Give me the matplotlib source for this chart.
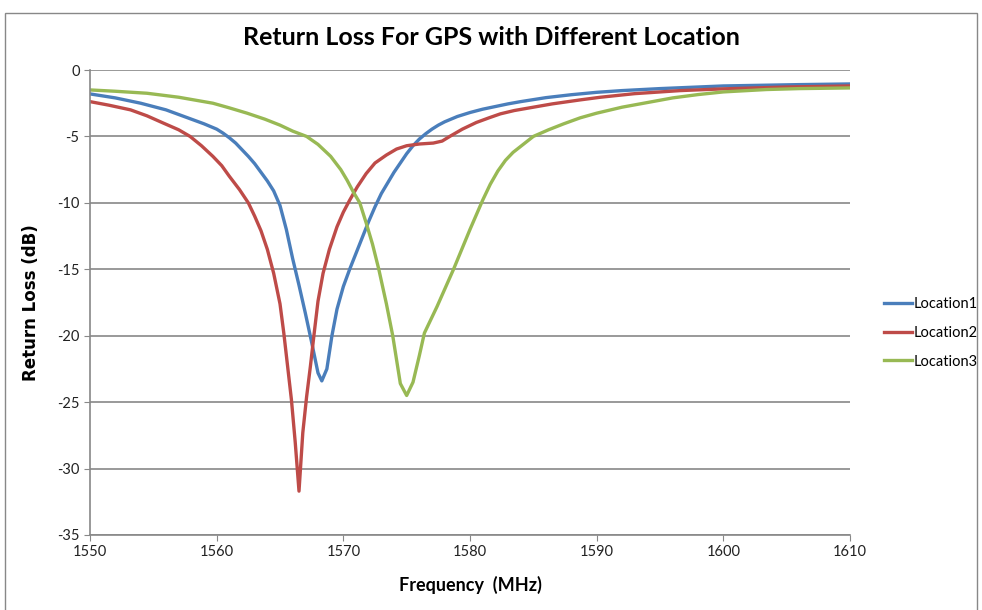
import numpy as np
import matplotlib.pyplot as plt
from matplotlib.patches import Rectangle

# Location1 (blue)
freq1 = [1550, 1551, 1552, 1553, 1554, 1555, 1556, 1557, 1558, 1559, 1560, 1560.5, 1561, 1561.5,
         1562, 1562.5, 1563, 1563.5, 1564, 1564.5, 1565, 1565.5, 1566, 1566.5, 1567, 1567.5,
         1568, 1568.3, 1568.7, 1569.1, 1569.5, 1570, 1570.5, 1571, 1571.5, 1572, 1572.5, 1573,
         1573.5, 1574, 1574.5, 1575, 1575.5, 1576, 1576.5, 1577, 1577.5, 1578, 1579, 1580,
         1581, 1582, 1583, 1584, 1586, 1588, 1590, 1592, 1595, 1598, 1600, 1603, 1606, 1610]
loss1 = [-1.8, -1.95, -2.1, -2.3, -2.5, -2.75, -3.0, -3.35, -3.7, -4.05, -4.45, -4.75, -5.1, -5.5,
         -6.0, -6.5, -7.05, -7.7, -8.35, -9.1, -10.2, -12.0, -14.2, -16.2, -18.3, -20.5,
         -22.8, -23.4, -22.5, -20.0, -18.0, -16.3, -15.0, -13.8, -12.6, -11.4, -10.3, -9.3,
         -8.5, -7.7, -7.0, -6.3, -5.7, -5.2, -4.8, -4.45, -4.15, -3.9, -3.5, -3.2,
         -2.95, -2.75, -2.55, -2.38, -2.08, -1.86, -1.68, -1.55, -1.4, -1.28, -1.2, -1.15, -1.1, -1.05]

# Location2 (red)
freq2 = [1550, 1551.5, 1553.2, 1554.5, 1555.8, 1557, 1557.9, 1558.8, 1559.7, 1560.4, 1561,
         1561.8, 1562.5, 1563, 1563.5, 1564, 1564.5, 1565, 1565.3, 1565.6, 1565.9, 1566.2,
         1566.5, 1566.8, 1567.1, 1567.4, 1567.7, 1568, 1568.4, 1568.9, 1569.5, 1570, 1570.5,
         1571.1, 1571.8, 1572.5, 1573.4, 1574.2, 1575, 1576, 1577.1, 1577.8, 1578.4, 1579.4,
         1580.5, 1581.5, 1582.4, 1583.5, 1584.7, 1586.5, 1588.7, 1590.3, 1593, 1596.6, 1600,
         1605, 1610]
loss2 = [-2.38, -2.65, -3.0, -3.45, -4.0, -4.5, -5.0, -5.7, -6.5, -7.2, -8.0,
         -9.0, -10.0, -11.0, -12.1, -13.5, -15.3, -17.6, -19.8, -22.3, -24.8, -28.0,
         -31.7, -27.3, -24.6, -22.3, -19.8, -17.4, -15.3, -13.5, -11.8, -10.7, -9.8,
         -8.8, -7.8, -7.0, -6.4, -5.95, -5.7, -5.57, -5.5, -5.35, -5.0, -4.45,
         -3.95, -3.6, -3.3, -3.05, -2.85, -2.55, -2.25, -2.05, -1.78, -1.55, -1.42,
         -1.28, -1.2]

# Location3 (green)
freq3 = [1550, 1552, 1554.5, 1557, 1559.7, 1561, 1562.4, 1563.8, 1565, 1566, 1567.1, 1568,
         1569, 1569.8, 1570.3, 1570.8, 1571.3, 1571.8, 1572.3, 1572.8, 1573.4, 1573.9, 1574.5,
         1575, 1575.5, 1576, 1576.4, 1577.4, 1578.7, 1580, 1581, 1581.6, 1582.2, 1582.8,
         1583.4, 1584.2, 1585, 1586.2, 1587.4, 1588.7, 1590, 1592, 1594, 1596, 1598, 1600,
         1603.4, 1606, 1610]
loss3 = [-1.5, -1.6, -1.75, -2.05, -2.5, -2.85, -3.25, -3.7, -4.15, -4.6, -5.0, -5.6,
         -6.5, -7.5, -8.3, -9.2, -10.0, -11.5, -13.1, -15.0, -17.6, -20.0, -23.6,
         -24.5, -23.5, -21.5, -19.8, -17.8, -15.0, -12.0, -9.8, -8.6, -7.6, -6.8,
         -6.2, -5.6, -5.0, -4.5, -4.05, -3.6, -3.25, -2.8, -2.45, -2.1, -1.85, -1.65,
         -1.47, -1.4, -1.35]

plt.rcParams['font.family'] = ['Lato', 'DejaVu Sans']
plt.rcParams['axes.unicode_minus'] = False
narrow = ['Liberation Sans Narrow', 'Lato', 'DejaVu Sans']

fig = plt.figure(figsize=(9.82, 6.1), dpi=100)
ax = fig.add_axes([90 / 982, 75 / 610, 760 / 982, 465 / 610])

ax.plot(freq1, loss1, color="#4A7EBB", linewidth=2.4, label="Location1")
ax.plot(freq2, loss2, color="#BE4B48", linewidth=2.4, label="Location2")
ax.plot(freq3, loss3, color="#98B954", linewidth=2.4, label="Location3")

ax.set_xlim(1550, 1610)
ax.set_ylim(-35, 0)
ax.set_xticks(np.arange(1550, 1611, 10))
ax.set_yticks(np.arange(-35, 1, 5))
ax.yaxis.grid(True, color="#888888", linewidth=1.2)
ax.set_axisbelow(True)
for s in ["top", "right"]:
    ax.spines[s].set_visible(False)
for s in ["left", "bottom"]:
    ax.spines[s].set_color("#888888")
    ax.spines[s].set_linewidth(1.2)
ax.tick_params(axis="both", colors="#888888", labelcolor="#222222", labelsize=10.5, length=4)
for lbl in ax.get_xticklabels() + ax.get_yticklabels():
    lbl.set_family(narrow)

ax.set_xlabel("Frequency  (MHz)", fontsize=13, fontweight="bold", labelpad=12)
ax.set_ylabel("Return Loss (dB)", fontsize=12, fontweight="bold", labelpad=12,
              family="DejaVu Sans")
fig.text(0.5, 0.938, "Return Loss For GPS with Different Location", ha="center", va="center",
         fontsize=18, fontweight="bold")

leg = ax.legend(loc="center left", bbox_to_anchor=(884 / 982, (610 - 333) / 610),
                bbox_transform=fig.transFigure, frameon=False, fontsize=10.5, handlelength=1.9,
                handletextpad=0.15, labelspacing=1.0, borderaxespad=0, borderpad=0,
                prop={'family': narrow, 'size': 10.5})

fig.patches.append(Rectangle((5 / 982, -0.05), 0.99, 1.04 - 7 / 610, transform=fig.transFigure,
                             fill=False, edgecolor="#888888", linewidth=1))

fig.savefig("out.png", dpi=100)
